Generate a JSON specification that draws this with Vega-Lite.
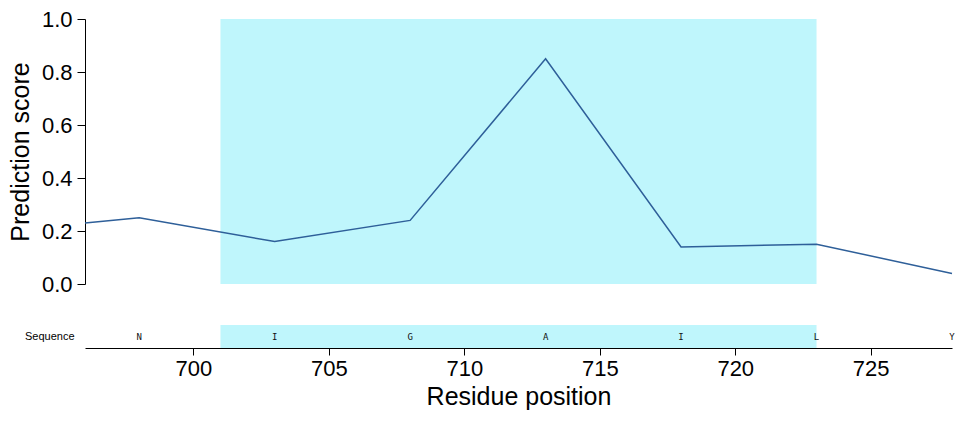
{
  "$schema": "https://vega.github.io/schema/vega-lite/v6.json",
  "background": "white",
  "padding": {"left": 8, "top": 8, "right": 10, "bottom": 5},
  "bounds": "flush",
  "spacing": 41,
  "config": {
    "view": {"stroke": null},
    "font": "Liberation Sans",
    "axis": {"grid": false, "domainColor": "black", "tickColor": "black", "labelColor": "black", "titleColor": "black", "titleFontWeight": "normal"}
  },
  "datasets": {
    "scores": [
      {"pos": 696, "score": 0.23},
      {"pos": 698, "score": 0.25},
      {"pos": 703, "score": 0.16},
      {"pos": 708, "score": 0.24},
      {"pos": 713, "score": 0.85},
      {"pos": 718, "score": 0.14},
      {"pos": 723, "score": 0.15},
      {"pos": 728, "score": 0.04}
    ],
    "region": [{"start": 701, "end": 723}],
    "seq": [
      {"pos": 698, "res": "N", "track": "Sequence"},
      {"pos": 703, "res": "I", "track": "Sequence"},
      {"pos": 708, "res": "G", "track": "Sequence"},
      {"pos": 713, "res": "A", "track": "Sequence"},
      {"pos": 718, "res": "I", "track": "Sequence"},
      {"pos": 723, "res": "L", "track": "Sequence"},
      {"pos": 728, "res": "Y", "track": "Sequence"}
    ]
  },
  "vconcat": [
    {
      "width": 867,
      "height": 265,
      "layer": [
        {
          "data": {"name": "region"},
          "mark": {"type": "rect", "color": "#bff6fc"},
          "encoding": {
            "x": {"field": "start", "type": "quantitative", "scale": {"domain": [696, 728], "nice": false, "zero": false}, "axis": null},
            "x2": {"field": "end"}
          }
        },
        {
          "data": {"name": "scores"},
          "mark": {"type": "line", "color": "#2e5f99", "strokeWidth": 1.5},
          "encoding": {
            "x": {"field": "pos", "type": "quantitative", "scale": {"domain": [696, 728], "nice": false, "zero": false}, "axis": null},
            "y": {"field": "score", "type": "quantitative", "scale": {"domain": [0, 1], "nice": false},
              "axis": {"title": "Prediction score", "values": [0, 0.2, 0.4, 0.6, 0.8, 1.0], "format": ".1f", "labelFontSize": 22, "titleFontSize": 25, "tickSize": 8, "labelPadding": 5, "titlePadding": 8}}
          }
        }
      ]
    },
    {
      "width": 867,
      "height": 23,
      "layer": [
        {
          "data": {"name": "region"},
          "mark": {"type": "rect", "color": "#bff6fc"},
          "encoding": {
            "x": {"field": "start", "type": "quantitative", "scale": {"domain": [696, 728], "nice": false, "zero": false},
              "axis": {"title": "Residue position", "values": [700, 705, 710, 715, 720, 725], "labelFontSize": 22, "titleFontSize": 25, "tickSize": 7, "labelPadding": 3, "titlePadding": 5}},
            "x2": {"field": "end"}
          }
        },
        {
          "data": {"name": "seq"},
          "mark": {"type": "text", "font": "DejaVu Sans Mono", "fontSize": 9, "color": "#111111"},
          "encoding": {
            "x": {"field": "pos", "type": "quantitative"},
            "y": {"field": "track", "type": "nominal", "axis": {"title": null, "domain": false, "ticks": false, "labelFontSize": 11, "labelPadding": 11}},
            "text": {"field": "res"}
          }
        }
      ]
    }
  ]
}
